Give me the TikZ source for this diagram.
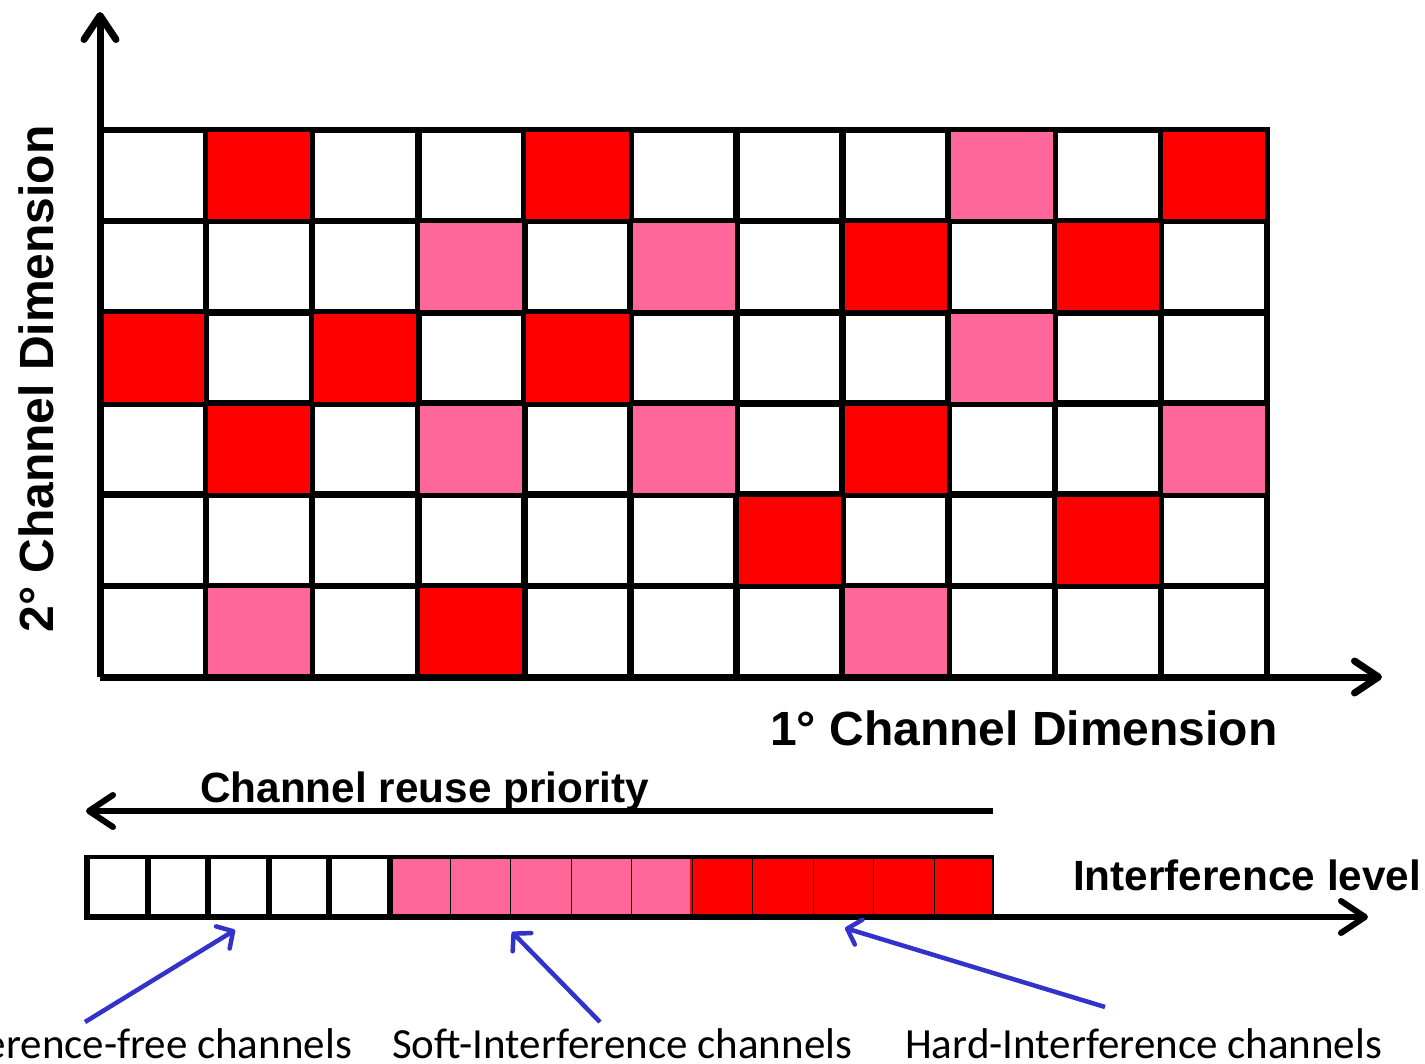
\documentclass[tikz,border=0pt]{standalone}
\usepackage{fontspec}
\setmainfont{Liberation Sans}
\newfontfamily\calib{Carlito}
\usetikzlibrary{arrows.meta}
\definecolor{hardred}{RGB}{255,0,0}
\definecolor{softpink}{RGB}{255,102,153}
\definecolor{arrowblue}{RGB}{51,51,204}
\tikzset{
  axisline/.style={line width=7pt,-{Straight Barb[length=24pt,width=32pt,round]}},
  gridline/.style={line width=6.5pt},
  cellfill/.style={draw=black,line width=0.8pt},
  bluearrow/.style={draw=arrowblue,line width=4.5pt,-{Straight Barb[length=12pt,width=26pt,round]}},
  boldlabel/.style={font=\bfseries\fontsize{48}{50}\selectfont,inner sep=0pt},
  midlabel/.style={font=\bfseries\fontsize{42.3}{45}\selectfont,inner sep=0pt},
  reglabel/.style={font=\calib\fontsize{43}{46}\selectfont,inner sep=0pt}
}
\begin{document}
\begin{tikzpicture}[x=1pt,y=-1pt]
\useasboundingbox (0,0) rectangle (1425,1064);
\fill[white] (0,0) rectangle (1425,1064);
% grid geometry
\def\cw{106.09}
\def\rh{91.17}
% grid lines
\foreach \i in {1,...,10} \draw[gridline] (100+\i*\cw,130) -- (100+\i*\cw,677);
\foreach \j in {0,...,5} \draw[gridline] (100,130+\j*\rh) -- (1267,130+\j*\rh);
\draw[gridline] (1267,127) -- (1267,680);
% coloured cells (1 = hard, 2 = soft)
\foreach \r/\cells in {0/{0,1,0,0,1,0,0,0,2,0,1},
                       1/{0,0,0,2,0,2,0,1,0,1,0},
                       2/{1,0,1,0,1,0,0,0,2,0,0},
                       3/{0,1,0,2,0,2,0,1,0,0,2},
                       4/{0,0,0,0,0,0,1,0,0,1,0},
                       5/{0,2,0,1,0,0,0,2,0,0,0}}{
  \foreach \v [count=\c from 0] in \cells {
    \ifnum\v=1
      \fill[hardred,cellfill] (100+\c*\cw+1.5,130+\r*\rh+1.5) rectangle (100+\c*\cw+\cw-1.5,130+\r*\rh+\rh-1.5);
    \fi
    \ifnum\v=2
      \fill[softpink,cellfill] (100+\c*\cw+1.5,130+\r*\rh+1.5) rectangle (100+\c*\cw+\cw-1.5,130+\r*\rh+\rh-1.5);
    \fi
  }
}
% axes
\coordinate (origin) at (100,677);
\coordinate (ytop) at (100,12);
\coordinate (xend) at (1382,677);
\draw[axisline] (origin) -- (ytop);
\draw[axisline] (origin) -- (xend);
% axis labels
\node[boldlabel,rotate=90,anchor=base] (ylab) at (53,379) {2° Channel Dimension};
\node[boldlabel,anchor=base west] (xlab) at (770,745) {1° Channel Dimension};
% channel reuse priority arrow
\coordinate (prioR) at (993,811);
\coordinate (prioL) at (86,811);
\draw[axisline,line width=6pt] (prioR) -- (prioL);
\node[midlabel,anchor=base west] (prio) at (200,802) {Channel reuse priority};
% bottom bar
\def\bw{60.53}
\fill[softpink] (387,857) rectangle (690,917);
\fill[hardred] (690,857) rectangle (993,917);
\foreach \i in {6,...,14} \draw[line width=1pt] (87+\i*\bw,857) -- (87+\i*\bw,917);
\draw[line width=2pt] (993,855) -- (993,917);
\draw[line width=4pt] (85,857) -- (993,857);
\foreach \i in {0,...,5} \draw[gridline,line width=6pt] (87+\i*\bw,855) -- (87+\i*\bw,917);
\coordinate (barL) at (84,917);
\coordinate (barR) at (1368,917);
\draw[axisline,line width=6pt] (barL) -- (barR);
\node[midlabel,anchor=base west] (ilev) at (1073,890) {Interference level};
% bottom labels
\node[reglabel,anchor=base east] (free) at (352,1058) {Interference-free channels};
\node[reglabel,anchor=base west] (soft) at (392,1058) {Soft-Interference channels};
\node[reglabel,anchor=base west] (hard) at (905,1058) {Hard-Interference channels};
% blue pointers
\coordinate (freeS) at (85,1022);
\coordinate (freeT) at (235,930);
\coordinate (softS) at (600,1022);
\coordinate (softT) at (512,932);
\coordinate (hardS) at (1105,1007);
\coordinate (hardT) at (845,928);
\draw[bluearrow] (freeS) -- (freeT);
\draw[bluearrow] (softS) -- (softT);
\draw[bluearrow] (hardS) -- (hardT);
\end{tikzpicture}
\end{document}
